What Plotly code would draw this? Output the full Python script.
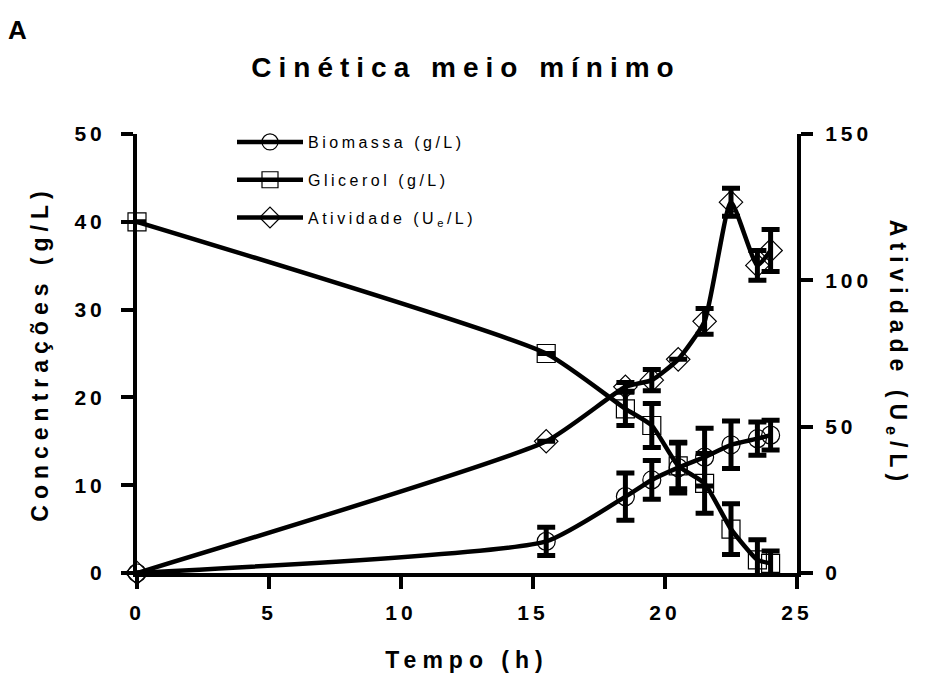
import plotly.graph_objects as go

# Sampling times (h)
tempo = [0, 15.5, 18.5, 19.5, 20.5, 21.5, 22.5, 23.5, 24]

# Biomass (g/L) with standard deviation
biomassa = [0, 3.6, 8.7, 10.6, 12.0, 13.2, 14.6, 15.3, 15.7]
biomassa_dp = [0, 1.6, 2.7, 2.2, 2.9, 3.3, 2.7, 1.9, 1.7]

# Glycerol (g/L) with standard deviation
glicerol = [40, 25, 18.7, 16.8, 12.2, 10.2, 5.0, 1.5, 1.1]
glicerol_dp = [0, 0, 1.9, 2.5, 2.6, 3.4, 2.9, 2.3, 1.4]

# Activity (Ue/L) with standard deviation
atividade = [0, 45, 63.6, 65.9, 73.0, 86.0, 126.7, 105.1, 110.2]
atividade_dp = [0, 0, 1.5, 3.6, 0, 4.4, 4.8, 5.1, 7.2]

x_ticks = [0, 5, 10, 15, 20, 25]
y_ticks = [0, 10, 20, 30, 40, 50]
y2_ticks = [0, 50, 100, 150]

FONT = "Liberation Sans"
BLACK = "black"

# plot area in pixels: left 137, right 797, top 134, bottom 575
PW, PH = 660, 441


def px_x(p):
    return (p - 137) / PW


def px_y(p):
    return (575 - p) / PH


def serie(nome, y, dp, simbolo, eixo, grupo):
    return go.Scatter(
        x=tempo, y=y, name=nome, yaxis=eixo, legendgroup=grupo,
        mode="lines+markers",
        line=dict(color=BLACK, width=4.5, shape="spline", smoothing=0.5),
        marker=dict(symbol=simbolo, size=18, color=BLACK, line=dict(width=1.2, color=BLACK)),
        error_y=dict(type="data", array=dp, visible=True, color=BLACK, thickness=5, width=9),
        cliponaxis=False,
    )


fig = go.Figure()
fig.add_trace(serie("Biomassa (g/L)", biomassa, biomassa_dp, "circle-open", "y", "b"))
fig.add_trace(serie("Glicerol (g/L)", glicerol, glicerol_dp, "square-open", "y", "g"))
fig.add_trace(serie("Atividade (U<sub>e</sub>/L)", atividade, atividade_dp, "diamond-open", "y2", "a"))

axis_common = dict(
    showline=True, linecolor=BLACK, linewidth=4,
    ticks="outside", ticklen=12, tickwidth=4, tickcolor=BLACK,
    showgrid=False, zeroline=False,
    tickfont=dict(family=FONT, size=21, color=BLACK, weight="bold"),
)
title_font = dict(family=FONT, size=23, color=BLACK)

fig.update_layout(
    width=941, height=682,
    margin=dict(l=137, r=144, t=134, b=107),
    paper_bgcolor="white", plot_bgcolor="white",
    title=dict(text="<b>Cinética meio mínimo</b>", x=466 / 941, y=1 - 67 / 682,
               xref="container", yref="container", xanchor="center", yanchor="middle",
               font=dict(family=FONT, size=28, color=BLACK)),
    showlegend=True,
    legend=dict(
        x=px_x(232), y=1 + (134 - 125) / PH, xanchor="left", yanchor="top",
        font=dict(family=FONT, size=16, color=BLACK),
        itemwidth=66, tracegroupgap=14, bgcolor="rgba(0,0,0,0)",
    ),
    xaxis=dict(range=[0, 25], tickvals=x_ticks, ticklabelstandoff=6,
               title=dict(text="<b>Tempo (h)</b>", font=title_font, standoff=30),
               **axis_common),
    yaxis=dict(range=[0, 50], tickvals=y_ticks, ticklabelstandoff=11,
               title=dict(text="<b>Concentrações (g/L)</b>", font=title_font, standoff=28),
               **axis_common),
    yaxis2=dict(range=[0, 150], tickvals=y2_ticks, overlaying="y", side="right",
                ticklabelstandoff=8,
                title=dict(text="<b>Atividade (U<sub>e</sub>/L)</b>", font=title_font, standoff=16),
                **axis_common),
    annotations=[
        dict(text="<b>A</b>", x=px_x(17), y=px_y(30), xref="paper", yref="paper",
             xanchor="center", yanchor="middle", showarrow=False,
             font=dict(family=FONT, size=26, color=BLACK)),
    ],
)

# Widen character spacing of the chart text once the plot is drawn,
# and turn the right-hand axis title so it reads top to bottom
spacing_js = """
var gd = document.getElementById('{plot_id}');
function sp(sel, v) { gd.querySelectorAll(sel).forEach(function(t){ t.style.letterSpacing = v; }); }
sp('.xtick text, .ytick text, .y2tick text', '4px');
sp('.legendtext', '3.5px');
sp('.gtitle', '7px');
sp('.xtitle, .y2title', '6px');
sp('.ytitle', '6px');
gd.querySelectorAll('.legend [clip-path]').forEach(function(e){ e.removeAttribute('clip-path'); });
var r = gd.querySelector('.y2title');
if (r) {
  var tr = r.getAttribute('transform') || '';
  r.setAttribute('transform', tr.replace('rotate(-90', 'rotate(90'));
}
"""

fig.write_html("out.html", post_script=spacing_js)
